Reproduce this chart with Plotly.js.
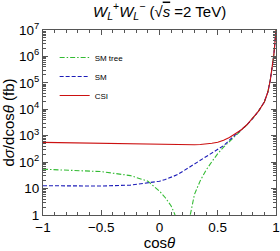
<!DOCTYPE html>
<html>
<head>
<meta charset="utf-8">
<script src="https://cdn.plot.ly/plotly-3.0.1.min.js"></script>
<style>html,body{margin:0;padding:0;background:#fff}#chart{width:280px;height:251px}</style>
</head>
<body>
<div id="chart"></div>
<script>
const cosTheta = [-1, -0.75, -0.5, -0.25, -0.1, 0, 0.05, 0.1, 0.13, 0.15, 0.2, 0.25, 0.3, 0.35, 0.4, 0.45, 0.5, 0.55, 0.6, 0.65, 0.7, 0.75, 0.8, 0.85, 0.9, 0.93, 0.95, 0.97, 0.98, 0.99, 1];
const smTree = [54, 50, 44, 31, 19, 8, 4.5, 2.2, 1.1, 0.5, 0.02, 0.5, 6, 20, 50, 105, 210, 370, 600, 950, 1550, 2550, 4500, 8500, 19000, 45000, 120000, 400000, 1000000, 3000000, 10000000];
const sm = [12.8, 12.5, 12.5, 13.5, 16, 19, 22, 27, 30, 33, 45, 62, 85, 115, 155, 215, 300, 420, 680, 1050, 1620, 2580, 4500, 8500, 19000, 45000, 120000, 400000, 1000000, 3000000, 10000000];
const csi = [560, 535, 510, 485, 470, 462, 457, 453, 451, 450, 448, 450, 455, 465, 485, 515, 570, 670, 850, 1150, 1650, 2600, 4500, 8500, 19000, 45000, 120000, 400000, 1000000, 3000000, 10000000];
const seriesNames = ["SM tree", "SM", "CSI"];
const yTickVals = [1, 10, 100, 1000, 10000, 100000, 1000000, 10000000];
const yTickText = ["1", "10", "10<sup>2</sup>", "10<sup>3</sup>", "10<sup>4</sup>", "10<sup>5</sup>", "10<sup>6</sup>", "10<sup>7</sup>"];
const xTickVals = [-1, -0.5, 0, 0.5, 1];
const xTickText = ["\u22121", "\u22120.5", "0", "0.5", "1"];

const font = "Liberation Sans, Arial, sans-serif";
const traces = [
  {x: cosTheta, y: smTree, name: seriesNames[0], mode: "lines", line: {color: "#33bb33", width: 1.1, dash: "5px,2px,1.5px,2px"}},
  {x: cosTheta, y: sm, name: seriesNames[1], mode: "lines", line: {color: "#1c1cb8", width: 1.1, dash: "4px,2px"}},
  {x: cosTheta, y: csi, name: seriesNames[2], mode: "lines", line: {color: "#cc1111", width: 1.1}}
];
const axisCommon = {
  showline: true, linecolor: "#555", linewidth: 1, mirror: "allticks",
  ticks: "inside", ticklen: 5, tickcolor: "#555", showgrid: false, zeroline: false,
  ticklabeloverflow: "allow",
  tickfont: {family: font, size: 13.5, color: "#000"}
};
const layout = {
  width: 280, height: 251,
  margin: {l: 43, r: 4, t: 30, b: 36},
  paper_bgcolor: "#fff", plot_bgcolor: "#fff",
  title: {text: "<i>W</i><sub><i>L</i></sub><sup>+</sup><i>W</i><sub><i>L</i></sub><sup>\u2212</sup> (\u221A<span style='text-decoration:overline'><i>s</i></span> =2 TeV)", font: {family: font, size: 15, color: "#000"}, x: 0.57, xanchor: "center", y: 0.955, yanchor: "middle"},
  xaxis: Object.assign({}, axisCommon, {
    range: [-1, 1], tickvals: xTickVals, ticktext: xTickText,
    minor: {dtick: 0.1, ticks: "inside", ticklen: 3, tickcolor: "#555"},
    title: {text: "cos<i>\u03B8</i>", font: {family: font, size: 15, color: "#000"}, standoff: 9}
  }),
  yaxis: Object.assign({}, axisCommon, {
    type: "log", range: [0, 7], tickvals: yTickVals, ticktext: yTickText,
    minor: {ticks: "inside", ticklen: 3, tickcolor: "#555", dtick: "D1"},
    title: {text: "d<i>\u03C3</i>/dcos<i>\u03B8</i> (fb)", font: {family: font, size: 15, color: "#000"}, standoff: 2}
  }),
  showlegend: true,
  legend: {x: 0.05, y: 0.93, xanchor: "left", yanchor: "top", bgcolor: "rgba(0,0,0,0)", font: {family: font, size: 8, color: "#000"}, tracegroupgap: 0, itemwidth: 30}
};
Plotly.newPlot("chart", traces, layout, {displayModeBar: false, staticPlot: true});
</script>
</body>
</html>
